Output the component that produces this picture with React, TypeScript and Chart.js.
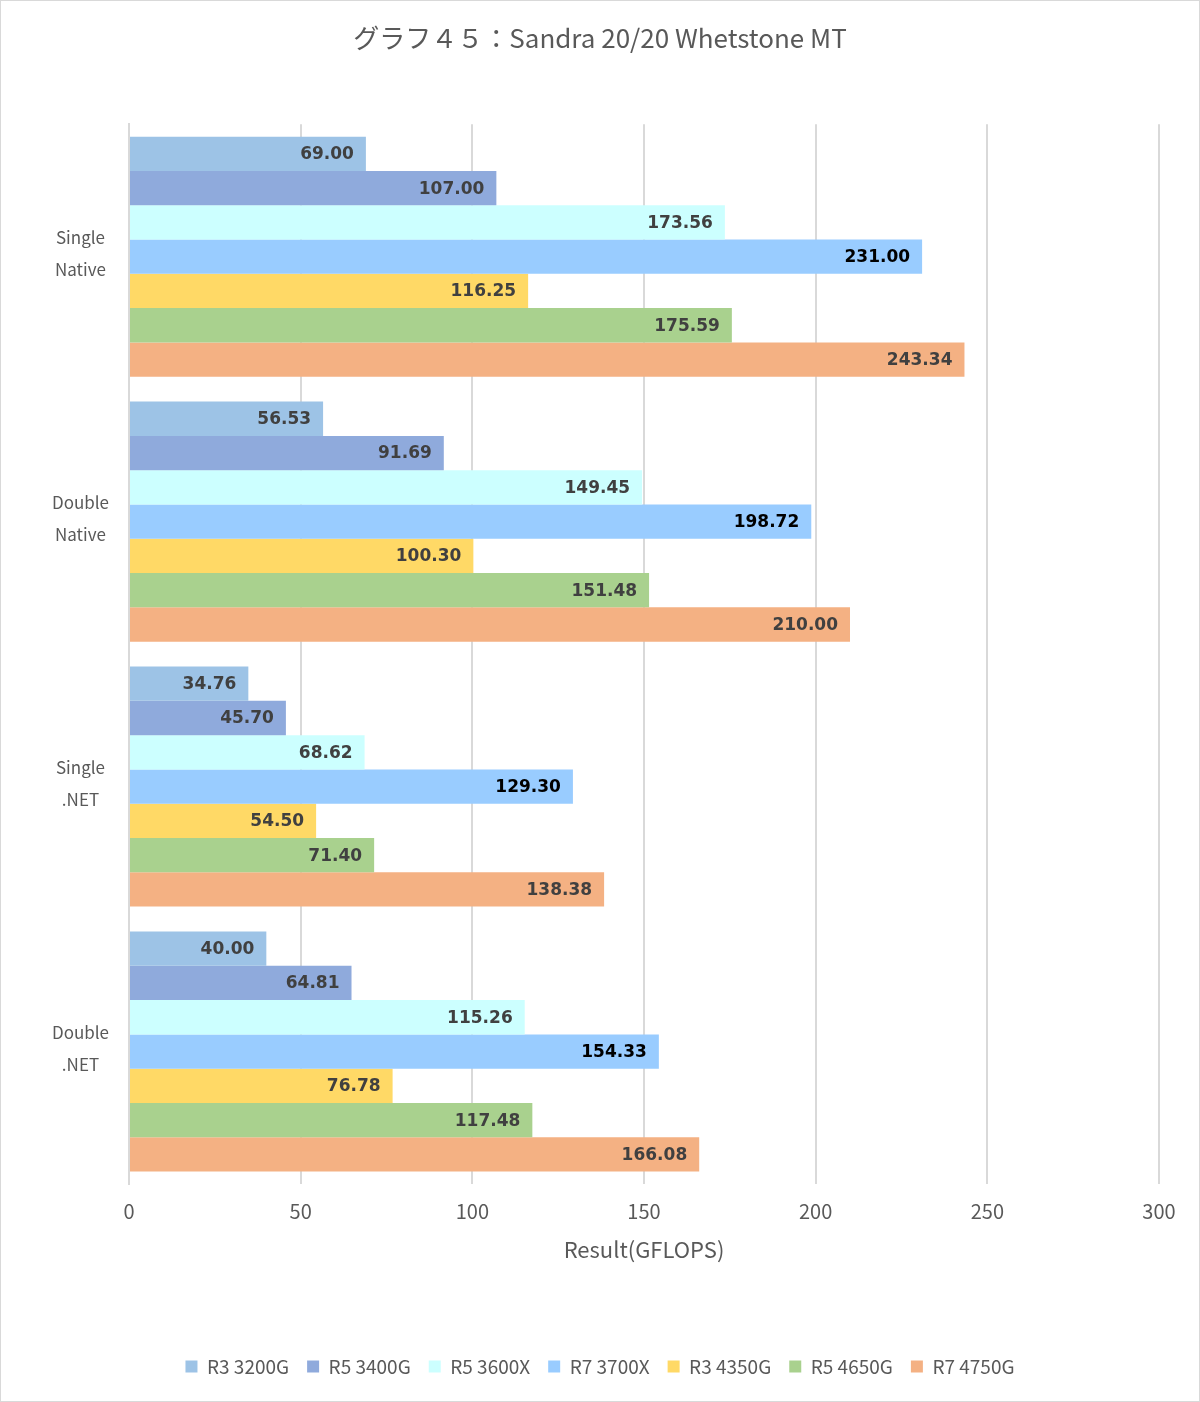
import React, { useEffect, useRef } from "react";
import { Chart, registerables } from "chart.js";

Chart.register(...registerables);

const categories: string[][] = [["Single", "Native"], ["Double", "Native"], ["Single", ".NET"], ["Double", ".NET"]];
const seriesNames = ["R3 3200G", "R5 3400G", "R5 3600X", "R7 3700X", "R3 4350G", "R5 4650G", "R7 4750G"];
const r3_3200g = [69.0, 56.53, 34.76, 40.0];
const r5_3400g = [107.0, 91.69, 45.7, 64.81];
const r5_3600x = [173.56, 149.45, 68.62, 115.26];
const r7_3700x = [231.0, 198.72, 129.3, 154.33];
const r3_4350g = [116.25, 100.3, 54.5, 76.78];
const r5_4650g = [175.59, 151.48, 71.4, 117.48];
const r7_4750g = [243.34, 210.0, 138.38, 166.08];
const seriesValues = [r3_3200g, r5_3400g, r5_3600x, r7_3700x, r3_4350g, r5_4650g, r7_4750g];
const seriesColors = ["#9DC3E6", "#8FAADC", "#CCFFFF", "#99CCFF", "#FFD966", "#A9D18E", "#F4B183"];
const labelColors = ["#404040", "#404040", "#404040", "#000000", "#404040", "#404040", "#404040"];
const titleText = "グラフ４５：Sandra 20/20 Whetstone MT";
const axisTitle = "Result(GFLOPS)";

const FONT = "'Noto Sans CJK JP', 'Noto Sans', sans-serif";

const valueLabels = {
  id: "valueLabels",
  afterDatasetsDraw(chart: any) {
    const ctx = chart.ctx;
    ctx.save();
    ctx.font = "bold 17px 'DejaVu Sans', Verdana, sans-serif";
    ctx.textAlign = "right";
    ctx.textBaseline = "middle";
    chart.data.datasets.forEach((ds: any, di: number) => {
      const meta = chart.getDatasetMeta(di);
      meta.data.forEach((el: any, i: number) => {
        ctx.fillStyle = labelColors[di];
        ctx.fillText(Number(ds.data[i]).toFixed(2), el.x - 12, el.y + 1);
      });
    });
    ctx.restore();
  },
};

export default function App() {
  const ref = useRef<HTMLCanvasElement>(null);
  useEffect(() => {
    document.body.style.margin = "0";
    const chart = new Chart(ref.current!, {
      type: "bar",
      data: {
        labels: categories as any,
        datasets: seriesNames.map((name, i) => ({
          label: name,
          data: seriesValues[i],
          backgroundColor: seriesColors[i],
          borderWidth: 0,
          barPercentage: 1,
          categoryPercentage: 0.906,
        })),
      },
      options: {
        indexAxis: "y",
        responsive: false,
        animation: false,
        layout: { padding: { left: 0, right: 0, top: 0, bottom: 15 } },
        plugins: {
          title: {
            display: true,
            text: titleText,
            color: "#595959",
            font: { family: FONT, size: 26, weight: "normal" },
            padding: { top: 22, bottom: 70 },
          },
          legend: {
            position: "bottom",
            labels: {
              color: "#595959",
              font: { family: FONT, size: 19 },
              boxWidth: 12,
              boxHeight: 12,
              padding: 18,
            },
          },
          tooltip: { enabled: false },
        },
        scales: {
          x: {
            min: 0,
            max: 300,
            afterFit: (s: any) => { s.height = 155; },
            ticks: { stepSize: 50, color: "#595959", font: { family: FONT, size: 20 }, padding: 15 },
            grid: { color: "#D9D9D9", lineWidth: 2, drawTicks: false },
            border: { display: false },
            title: {
              display: true,
              text: axisTitle,
              color: "#595959",
              font: { family: FONT, size: 22 },
              padding: { top: 0, bottom: 76 },
            },
          },
          y: {
            afterFit: (s: any) => { s.width = 128; },
            ticks: {
              color: "#595959",
              font: { family: FONT, size: 17, lineHeight: 1.88 },
              crossAlign: "center",
              padding: 20,
              labelOffset: -3,
            },
            grid: { display: false, drawTicks: false },
            border: { display: true, color: "#D9D9D9", width: 2 },
          },
          yRight: {
            type: "linear",
            position: "right",
            display: true,
            afterFit: (s: any) => { s.width = 40; },
            ticks: { display: false },
            grid: { display: false, drawTicks: false },
            border: { display: false },
          },
        },
      },
      plugins: [valueLabels],
    } as any);
    return () => chart.destroy();
  }, []);
  return (
    <div style={{ width: 1200, height: 1402, border: "1px solid #D9D9D9", boxSizing: "border-box", background: "#fff" }}>
      <canvas ref={ref} width={1198} height={1400} style={{ display: "block" }} />
    </div>
  );
}
